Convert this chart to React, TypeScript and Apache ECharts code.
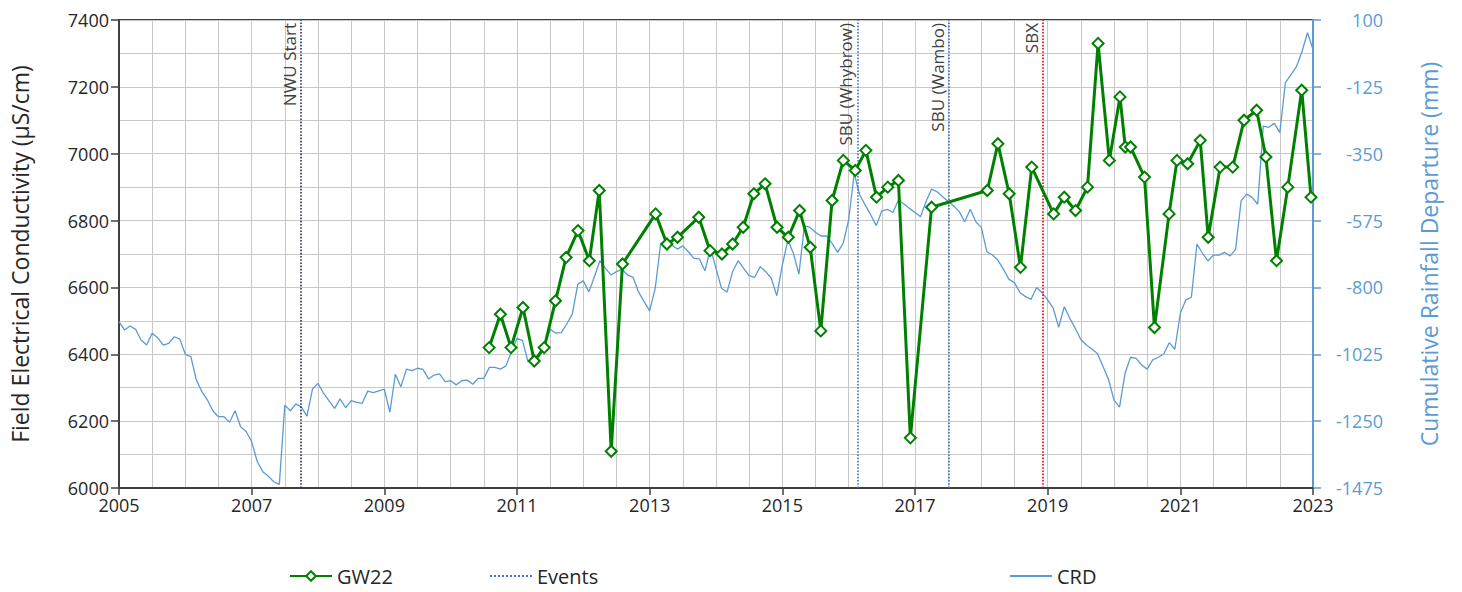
import React, { useEffect, useRef } from 'react';
import * as echarts from 'echarts';

const FONT = '"Open Sans", "Noto Sans", sans-serif';

// X-axis labelled years
const xTickYears = [2005, 2007, 2009, 2011, 2013, 2015, 2017, 2019, 2021, 2023];
// Right axis tick labels (Cumulative Rainfall Departure, mm)
const crdTicks = [100, -125, -350, -575, -800, -1025, -1250, -1475];

// CRD monthly values starting January 2005 (mm)
const crdStartYear = 2005;
const crdMonthly = [
  -915, -943, -930, -941, -977, -994, -954, -969, -994, -988, -966, -974,
  -1025, -1033, -1112, -1151, -1179, -1216, -1235, -1235, -1254, -1215, -1269, -1285,
  -1319, -1386, -1420, -1435, -1454, -1463, -1196, -1215, -1192, -1203, -1233, -1142,
  -1123, -1156, -1182, -1207, -1175, -1205, -1181, -1187, -1190, -1149, -1154, -1148,
  -1142, -1220, -1092, -1134, -1075, -1080, -1072, -1076, -1108, -1095, -1091, -1117,
  -1114, -1128, -1114, -1112, -1126, -1106, -1106, -1069, -1069, -1075, -1064, -1016,
  -971, -979, -1050, -1044, -1033, -999, -941, -954, -952, -923, -890, -789,
  -778, -815, -764, -710, -736, -758, -747, -739, -758, -766, -816, -848,
  -879, -803, -652, -652, -657, -671, -660, -680, -702, -704, -744, -668,
  -736, -803, -816, -747, -710, -736, -760, -766, -730, -747, -769, -828,
  -725, -640, -685, -755, -592, -598, -614, -627, -627, -652, -682, -652,
  -573, -416, -489, -523, -556, -592, -542, -537, -548, -506, -519, -534,
  -548, -562, -511, -469, -478, -495, -511, -526, -545, -579, -537, -579,
  -598, -680, -691, -708, -739, -773, -784, -818, -831, -840, -800, -818,
  -842, -870, -934, -865, -904, -938, -975, -994, -1007, -1022, -1065, -1109,
  -1179, -1203, -1089, -1035, -1039, -1061, -1075, -1044, -1035, -1024, -986, -1008,
  -887, -842, -833, -654, -685, -711, -691, -691, -682, -694, -672, -508,
  -486, -497, -520, -257, -261, -248, -279, -111, -85, -57, -7, 57,
  1,
];

// GW22 sampling dates (decimal years) and field EC (µS/cm)
const gwDates = [
  2010.58, 2010.75, 2010.91, 2011.09, 2011.26, 2011.41, 2011.58, 2011.74, 2011.92,
  2012.09, 2012.24, 2012.42, 2012.59, 2013.09, 2013.26, 2013.42, 2013.74, 2013.91,
  2014.09, 2014.25, 2014.41, 2014.57, 2014.74, 2014.92, 2015.09, 2015.26, 2015.42,
  2015.58, 2015.75, 2015.92, 2016.10, 2016.26, 2016.42, 2016.59, 2016.75, 2016.93,
  2017.25, 2018.09, 2018.25, 2018.42, 2018.59, 2018.76, 2019.09, 2019.25, 2019.42,
  2019.60, 2019.76, 2019.93, 2020.09, 2020.17, 2020.25, 2020.46, 2020.61, 2020.83,
  2020.95, 2021.11, 2021.30, 2021.42, 2021.60, 2021.79, 2021.96, 2022.15, 2022.29,
  2022.45, 2022.62, 2022.83, 2022.97,
];
const gwValues = [
  6420, 6520, 6420, 6540, 6380, 6420, 6560, 6690, 6770,
  6680, 6890, 6110, 6670, 6820, 6730, 6750, 6810, 6710,
  6700, 6730, 6780, 6880, 6910, 6780, 6750, 6830, 6720,
  6470, 6860, 6980, 6950, 7010, 6870, 6900, 6920, 6150,
  6840, 6890, 7030, 6880, 6660, 6960, 6820, 6870, 6830,
  6900, 7330, 6980, 7170, 7020, 7020, 6930, 6480, 6820,
  6980, 6970, 7040, 6750, 6960, 6960, 7100, 7130, 6990,
  6680, 6900, 7190, 6870,
];

// Events
const eventNames = ['NWU Start', 'SBU (Whybrow)', 'SBU (Wambo)', 'SBX'];
const eventDates = [2007.74, 2016.13, 2017.51, 2018.93];
const eventColors = ['#2B2B55', '#4472C4', '#4472C4', '#E00000'];

const GREEN = '#008000';
const BLUE = '#5B9BD5';
const DARK = '#404040';
const GRID = '#C8C8C8';

const plain = (v: number) => String(v);

export default function App() {
  const ref = useRef<HTMLDivElement>(null);

  useEffect(() => {
    if (!ref.current) return;
    const chart = echarts.init(ref.current, null, { renderer: 'svg' });

    const crdData = crdMonthly.map((v, i) => [crdStartYear + i / 12, v]);
    const gwData = gwDates.map((d, i) => [d, gwValues[i]]);

    const legendBase = {
      top: 566,
      padding: 0,
      itemWidth: 42,
      itemHeight: 12,
      textStyle: { fontSize: 20, color: '#262626', fontFamily: FONT },
    };

    chart.setOption({
      animation: false,
      backgroundColor: '#ffffff',
      textStyle: { fontFamily: FONT },
      grid: {
        left: 119,
        right: 149,
        top: 20,
        bottom: 104,
        show: true,
        borderColor: DARK,
        borderWidth: 2,
        backgroundColor: 'transparent',
      },
      legend: [
        { ...legendBase, left: 289, data: ['GW22'] },
        { ...legendBase, left: 489, data: [{ name: 'Events', itemStyle: { opacity: 0 } }] },
        { ...legendBase, left: 1009, data: [{ name: 'CRD', itemStyle: { opacity: 0 } }] },
      ],
      xAxis: [
        {
          type: 'value',
          min: 2005,
          max: 2023,
          interval: 0.5,
          position: 'bottom',
          axisLine: { show: true, onZero: false, lineStyle: { color: DARK, width: 2 } },
          axisTick: { show: false },
          axisLabel: { show: false },
          splitLine: { show: true, lineStyle: { color: GRID, width: 1 } },
        },
        {
          type: 'value',
          min: 2005,
          max: 2023,
          position: 'bottom',
          axisLine: { show: false, onZero: false },
          axisTick: {
            show: true,
            customValues: xTickYears,
            length: 7,
            lineStyle: { color: DARK, width: 1.5 },
          },
          axisLabel: {
            show: true,
            customValues: xTickYears,
            formatter: plain,
            fontSize: 18,
            color: '#262626',
            margin: 8,
            fontFamily: FONT,
          },
          splitLine: { show: false },
        },
      ],
      yAxis: [
        {
          type: 'value',
          min: 6000,
          max: 7400,
          interval: 200,
          position: 'left',
          name: 'Field Electrical Conductivity (µS/cm)',
          nameLocation: 'middle',
          nameGap: 88,
          nameTextStyle: { fontSize: 23, color: '#262626', fontFamily: FONT },
          axisLine: { show: true, onZero: false, lineStyle: { color: DARK, width: 2 } },
          axisTick: { show: true, length: 8, lineStyle: { color: DARK, width: 1.5 } },
          axisLabel: { formatter: plain, fontSize: 18, color: '#262626', margin: 10, fontFamily: FONT },
          splitLine: { show: true, lineStyle: { color: GRID, width: 1 } },
          minorTick: { show: false, splitNumber: 2 },
          minorSplitLine: { show: true, lineStyle: { color: GRID, width: 1 } },
        },
        {
          type: 'value',
          min: -1475,
          max: 100,
          position: 'right',
          name: 'Cumulative Rainfall Departure (mm)',
          nameLocation: 'middle',
          nameGap: 104,
          nameTextStyle: { fontSize: 23, color: BLUE, fontFamily: FONT },
          axisLine: { show: true, onZero: false, lineStyle: { color: BLUE, width: 2 } },
          axisTick: {
            show: true,
            customValues: crdTicks,
            length: 8,
            lineStyle: { color: BLUE, width: 1.5 },
          },
          axisLabel: {
            customValues: crdTicks,
            formatter: plain,
            align: 'right',
            margin: 70,
            fontSize: 18,
            color: BLUE,
            fontFamily: FONT,
          },
          splitLine: { show: false },
        },
      ],
      series: [
        {
          name: 'CRD',
          type: 'line',
          xAxisIndex: 0,
          yAxisIndex: 1,
          data: crdData,
          symbol: 'none',
          lineStyle: { color: BLUE, width: 1.3 },
          itemStyle: { color: BLUE },
          z: 2,
        },
        {
          name: 'Events',
          type: 'line',
          xAxisIndex: 0,
          yAxisIndex: 0,
          data: [],
          symbol: 'none',
          lineStyle: { color: '#4472C4', type: 'dotted', width: 1.5 },
          itemStyle: { color: '#4472C4' },
          markLine: {
            symbol: ['none', 'none'],
            silent: true,
            animation: false,
            data: eventNames.map((n, i) => ({
              name: n,
              xAxis: eventDates[i],
              lineStyle: { color: eventColors[i], type: 'dotted', width: 1.6 },
              label: {
                show: true,
                formatter: '{b}',
                position: 'insideEndTop',
                distance: 3,
                color: '#404040',
                fontSize: 17,
                fontFamily: FONT,
              },
            })),
          },
          z: 3,
        },
        {
          name: 'GW22',
          type: 'line',
          xAxisIndex: 0,
          yAxisIndex: 0,
          data: gwData,
          symbol: 'diamond',
          symbolSize: 11,
          showAllSymbol: true,
          lineStyle: { color: GREEN, width: 3 },
          itemStyle: { color: '#ffffff', borderColor: GREEN, borderWidth: 2 },
          z: 5,
        },
      ],
    });

    return () => chart.dispose();
  }, []);

  return (
    <div
      ref={ref}
      style={{ position: 'absolute', left: 0, top: 0, width: 1462, height: 592 }}
    />
  );
}
